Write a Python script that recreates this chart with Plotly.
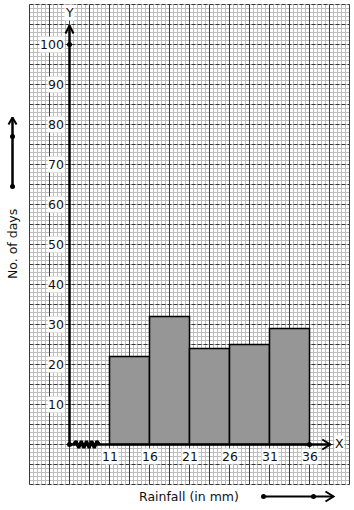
import numpy as np
import plotly.graph_objects as go

# ---- data ----
class_edges = [11, 16, 21, 26, 31, 36]
days = [22, 32, 24, 25, 29]
x_tick_labels = ["11", "16", "21", "26", "31", "36"]
y_tick_values = [10, 20, 30, 40, 50, 60, 70, 80, 90, 100]
x_title = "Rainfall (in mm)"
y_title = "No. of days"

# ---- geometry of the graph paper (data units) ----
ORIGIN_X = 6          # where the broken x-axis starts (Y axis)
PAPER_X = (1, 41)
PAPER_Y = (-10, 110)
X_RANGE = [-2.6875, 41.5625]
Y_RANGE = [-16.375, 111.125]
FONT = "DejaVu Sans"
FS = 12.5

centers = [(a + b) / 2 for a, b in zip(class_edges[:-1], class_edges[1:])]
widths = [b - a for a, b in zip(class_edges[:-1], class_edges[1:])]

fig = go.Figure()

# graph paper grid as path shapes (below traces)
def vpath(xs):
    return " ".join(f"M{x},{PAPER_Y[0]} L{x},{PAPER_Y[1]}" for x in xs)

def hpath(ys):
    return " ".join(f"M{PAPER_X[0]},{y} L{PAPER_X[1]},{y}" for y in ys)

minor_x = np.arange(PAPER_X[0], PAPER_X[1] + 0.01, 0.5)
minor_y = np.arange(PAPER_Y[0], PAPER_Y[1] + 0.01, 1)
major_x = np.arange(PAPER_X[0], PAPER_X[1] + 0.01, 2.5)
major_y = np.arange(PAPER_Y[0], PAPER_Y[1] + 0.01, 5)

shapes = [
    dict(type="path", xref="x", yref="y", layer="below",
         path=vpath(minor_x) + " " + hpath(minor_y),
         line=dict(color="#bdbdbd", width=1)),
    dict(type="path", xref="x", yref="y", layer="below",
         path=hpath(major_y), line=dict(color="#3a3a3a", width=1, dash="4px,2px")),
    dict(type="path", xref="x", yref="y", layer="below",
         path=vpath(major_x), line=dict(color="#3a3a3a", width=1)),
]

# histogram bars
fig.add_trace(go.Bar(x=centers, y=days, width=widths,
                     marker=dict(color="#969696", line=dict(color="black", width=1.5)),
                     hoverinfo="skip", showlegend=False))

def add_line(xs, ys, width=2.5):
    fig.add_trace(go.Scatter(x=xs, y=ys, mode="lines",
                             line=dict(color="black", width=width),
                             hoverinfo="skip", showlegend=False))

def add_dots(xs, ys):
    fig.add_trace(go.Scatter(x=xs, y=ys, mode="markers",
                             marker=dict(color="black", size=5),
                             hoverinfo="skip", showlegend=False))

# Y axis with arrow
y_tip = 104.75
add_line([ORIGIN_X, ORIGIN_X], [0, y_tip])
add_line([ORIGIN_X - 0.5, ORIGIN_X, ORIGIN_X + 0.5], [y_tip - 2, y_tip, y_tip - 2], 2)

# X axis with arrow
x_tip = 38.6
add_line([ORIGIN_X, x_tip], [0, 0])
add_line([x_tip - 1, x_tip, x_tip - 1], [1.25, 0, -1.25], 2)

# kink (axis break) on x axis
n_teeth = 5
zx = np.linspace(6.5, 9.75, 2 * n_teeth + 1)
zy = [0 if i in (0, 2 * n_teeth) else (0.85 if i % 2 else -0.85) for i in range(len(zx))]
add_line(list(zx), zy, 3.2)

add_dots([ORIGIN_X, ORIGIN_X, class_edges[-1]], [100, 0, 0])

# scale arrows next to the axis titles
lx = -1.125
add_line([lx, lx], [64.5, 81.75])
add_line([lx - 0.5, lx, lx + 0.5], [80.0, 81.75, 80.0], 2)
add_dots([lx, lx], [64.5, 77])

by = -13
add_line([30.25, 39], [by, by], 2)
add_line([38, 39, 38], [by + 1.25, by, by - 1.25], 2)
add_dots([30.25, 36.5], [by, by])

ann = []
font = dict(family=FONT, size=FS, color="#111111")
for v in y_tick_values:
    ann.append(dict(x=ORIGIN_X - 0.6, y=v, xref="x", yref="y", text=str(v),
                    showarrow=False, xanchor="right", yanchor="middle",
                    bgcolor="white", borderpad=0, font=font))
for e, t in zip(class_edges, x_tick_labels):
    ann.append(dict(x=e, y=-3, xref="x", yref="y", text=t, showarrow=False,
                    xanchor="center", yanchor="middle", bgcolor="white",
                    borderpad=0, font=font))
ann.append(dict(x=ORIGIN_X, y=108, xref="x", yref="y", text="Y", showarrow=False,
                bgcolor="white", borderpad=0, font=font))
ann.append(dict(x=39.75, y=0.25, xref="x", yref="y", text="X", showarrow=False,
                bgcolor="white", borderpad=0, font=font))
ann.append(dict(x=20.875, y=-13, xref="x", yref="y", text=x_title, showarrow=False,
                font=font))
ann.append(dict(x=lx, y=50, xref="x", yref="y", text=y_title, showarrow=False,
                textangle=-90, font=font))

fig.update_layout(
    width=354, height=510, autosize=False,
    margin=dict(l=0, r=0, t=0, b=0, pad=0),
    paper_bgcolor="white", plot_bgcolor="white",
    xaxis=dict(range=X_RANGE, visible=False, fixedrange=True),
    yaxis=dict(range=Y_RANGE, visible=False, fixedrange=True),
    shapes=shapes, annotations=ann, showlegend=False,
)

fig.write_html("out.html", config={"displayModeBar": False})
